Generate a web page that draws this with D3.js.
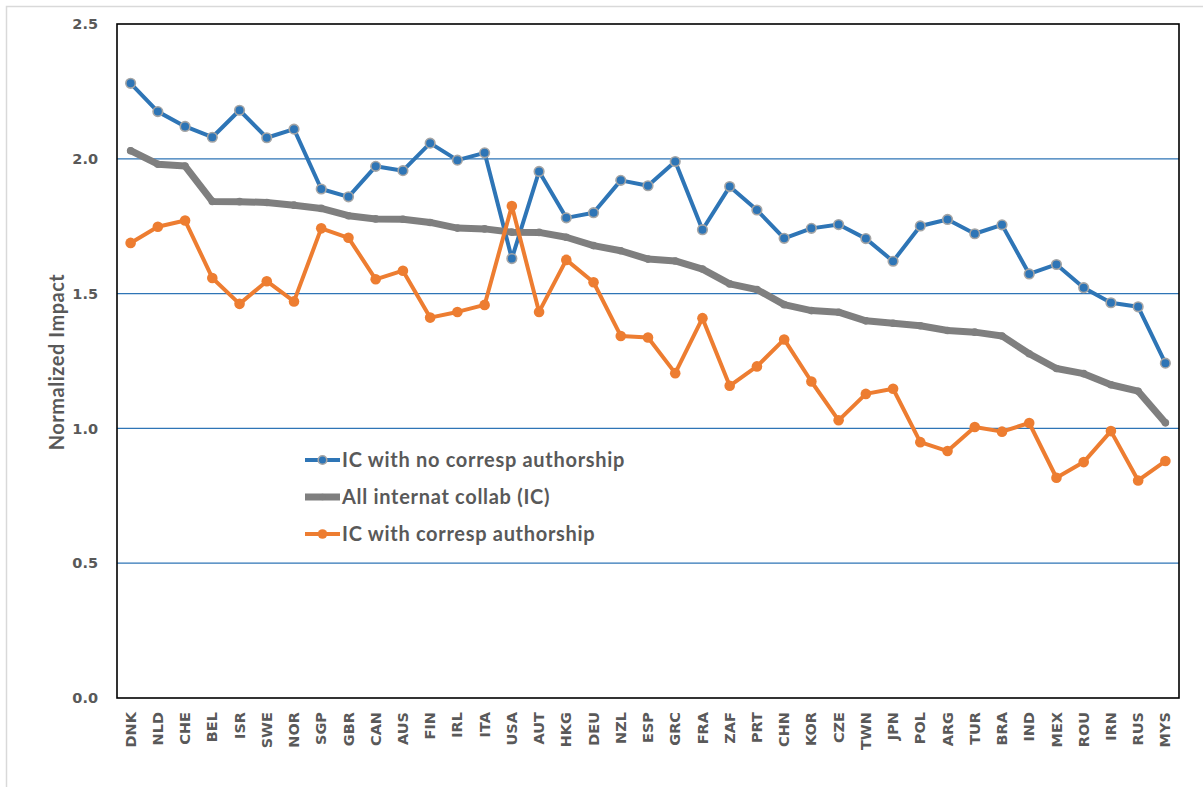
<!DOCTYPE html>
<html>
<head>
<meta charset="utf-8">
<script src="https://cdn.jsdelivr.net/npm/d3@7"></script>
<style>
  body { margin: 0; background: #fff; }
  svg { display: block; }
</style>
</head>
<body>
<script>
// country codes along the x axis
let countries = ["DNK","NLD","CHE","BEL","ISR","SWE","NOR","SGP","GBR","CAN","AUS","FIN","IRL","ITA","USA","AUT","HKG","DEU","NZL","ESP","GRC","FRA","ZAF","PRT","CHN","KOR","CZE","TWN","JPN","POL","ARG","TUR","BRA","IND","MEX","ROU","IRN","RUS","MYS"]

// IC with no corresp authorship
let noCorresp = [2.28,2.175,2.12,2.08,2.18,2.078,2.11,1.888,1.859,1.972,1.956,2.058,1.995,2.022,1.63,1.953,1.781,1.80,1.92,1.90,1.99,1.737,1.897,1.81,1.705,1.742,1.756,1.704,1.62,1.751,1.775,1.722,1.755,1.573,1.608,1.522,1.466,1.451,1.242]

// All internat collab (IC)
let allIC = [2.03,1.98,1.973,1.842,1.841,1.838,1.828,1.816,1.789,1.777,1.776,1.764,1.743,1.74,1.728,1.727,1.709,1.678,1.659,1.628,1.621,1.591,1.536,1.515,1.459,1.437,1.431,1.399,1.39,1.381,1.363,1.357,1.343,1.277,1.222,1.203,1.162,1.138,1.021]

// IC with corresp authorship
let corresp = [1.688,1.748,1.771,1.558,1.462,1.546,1.471,1.742,1.707,1.553,1.585,1.411,1.432,1.458,1.825,1.432,1.625,1.542,1.343,1.337,1.205,1.409,1.158,1.23,1.33,1.174,1.03,1.128,1.147,0.949,0.916,1.005,0.988,1.02,0.817,0.875,0.99,0.807,0.879]

let yTicks = [0, 0.5, 1.0, 1.5, 2.0, 2.5]
let gridVals = [0.5, 1.0, 1.5, 2.0]

let width = 1203, height = 787
let plot = {left: 117, right: 1179, top: 24, bottom: 698}

const svg = d3.select("body").append("svg")
    .attr("width", width)
    .attr("height", height)

// outer chart frame (light gray, runs off the bottom/right)
svg.append("rect")
    .attr("x", 6.5).attr("y", 6.5)
    .attr("width", width + 20).attr("height", height + 20)
    .attr("fill", "none")
    .attr("stroke", "#d9d9d9")
    .attr("stroke-width", 1.5)

let x = d3.scaleBand()
    .domain(countries)
    .range([plot.left, plot.right])

let y = d3.scaleLinear()
    .domain([0, 2.5])
    .range([plot.bottom, plot.top])

let cx = d => x(d) + x.bandwidth() / 2

// gridlines
svg.append("g")
  .selectAll("line")
  .data(gridVals)
  .join("line")
    .attr("x1", plot.left).attr("x2", plot.right)
    .attr("y1", d => y(d)).attr("y2", d => y(d))
    .attr("stroke", "#2e75b6")
    .attr("stroke-width", 1.2)

// y axis labels
let yAxis = g => g
    .attr("transform", `translate(${plot.left},0)`)
    .call(d3.axisLeft(y).tickValues(yTicks).tickFormat(d3.format(".1f")).tickSize(0).tickPadding(19))
    .call(g => g.select(".domain").remove())
    .call(g => g.selectAll("text")
      .attr("fill", "#595959")
      .style("font", "bold 14.5px 'DejaVu Sans'"))

svg.append("g").call(yAxis)

// x axis labels, rotated
let xAxis = g => g
    .attr("transform", `translate(0,${plot.bottom})`)
    .call(d3.axisBottom(x).tickSize(0).tickPadding(0))
    .call(g => g.select(".domain").remove())
    .call(g => g.selectAll("text")
      .attr("fill", "#595959")
      .style("font", "bold 14.5px 'DejaVu Sans'")
      .style("text-anchor", "end")
      .attr("transform", "rotate(-90)")
      .attr("x", -14)
      .attr("y", 0)
      .attr("dy", "0.35em"))

svg.append("g").call(xAxis)

// y axis title
svg.append("text")
    .text("Normalized Impact")
    .attr("transform", "rotate(-90)")
    .attr("x", -362)
    .attr("y", 64)
    .attr("text-anchor", "middle")
    .attr("fill", "#595959")
    .style("font", "bold 20px Lato")
    .style("letter-spacing", "0.5px")

let series = [
  {name: "IC with no corresp authorship", values: noCorresp, color: "#2e75b6", lw: 4, r: 4.8, mfill: "#2e75b6", mstroke: "#a5a5a5", msw: 1.6},
  {name: "All internat collab (IC)", values: allIC, color: "#7f7f7f", lw: 7, r: 3.8, mfill: "#7f7f7f", mstroke: "#7f7f7f", msw: 0},
  {name: "IC with corresp authorship", values: corresp, color: "#ed7d31", lw: 4, r: 5.3, mfill: "#ed7d31", mstroke: "#ed7d31", msw: 0}
]

let line = d3.line()
    .x((d, i) => cx(countries[i]))
    .y(d => y(d))

for (let s of series) {
  let g = svg.append("g")
  g.append("path")
    .datum(s.values)
    .attr("d", line)
    .attr("fill", "none")
    .attr("stroke", s.color)
    .attr("stroke-width", s.lw)
    .attr("stroke-linejoin", "round")
    .attr("stroke-linecap", "round")
  g.selectAll("circle")
    .data(s.values)
    .join("circle")
      .attr("cx", (d, i) => cx(countries[i]))
      .attr("cy", d => y(d))
      .attr("r", s.r)
      .attr("fill", s.mfill)
      .attr("stroke", s.mstroke)
      .attr("stroke-width", s.msw)
}

// plot border
svg.append("rect")
    .attr("x", plot.left).attr("y", plot.top)
    .attr("width", plot.right - plot.left).attr("height", plot.bottom - plot.top)
    .attr("fill", "none")
    .attr("stroke", "#000")
    .attr("stroke-width", 1.6)

// legend
let legend = svg.append("g")
  .selectAll("g")
  .data(series)
  .join("g")
    .attr("transform", (d, i) => `translate(305,${460 + i * 37})`)

legend.append("line")
    .attr("x1", 0).attr("x2", 35)
    .attr("stroke", d => d.color)
    .attr("stroke-width", d => d.lw)
legend.append("circle")
    .attr("cx", 17.5)
    .attr("r", d => d.r - 0.5)
    .attr("fill", d => d.mfill)
    .attr("stroke", d => d.mstroke)
    .attr("stroke-width", d => d.msw)
legend.append("text")
    .text(d => d.name)
    .attr("x", 37)
    .attr("dy", "0.36em")
    .attr("fill", "#595959")
    .style("font", "bold 20px Lato")
    .style("letter-spacing", "0.7px")
</script>
</body>
</html>
